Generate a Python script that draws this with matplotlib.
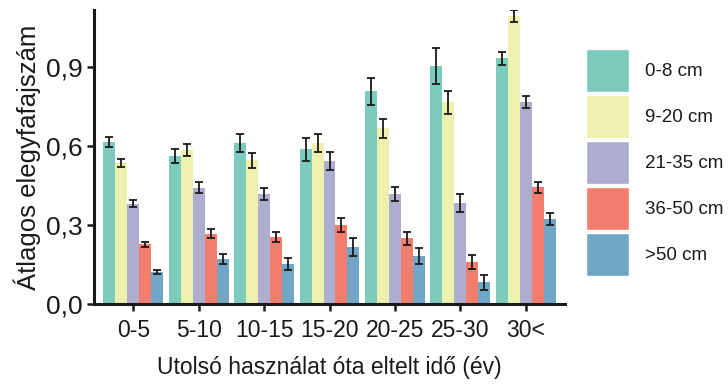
import matplotlib
matplotlib.use("Agg")
import matplotlib.pyplot as plt
import numpy as np
from matplotlib.patches import Patch

categories = ["0-5", "5-10", "10-15", "15-20", "20-25", "25-30", "30<"]
series_names = ["0-8 cm", "9-20 cm", "21-35 cm", "36-50 cm", ">50 cm"]

v_0_8 = [0.616, 0.562, 0.611, 0.587, 0.808, 0.903, 0.933]
v_9_20 = [0.537, 0.585, 0.546, 0.610, 0.667, 0.766, 1.094]
v_21_35 = [0.381, 0.442, 0.417, 0.543, 0.417, 0.385, 0.766]
v_36_50 = [0.227, 0.267, 0.254, 0.300, 0.249, 0.161, 0.443]
v_50 = [0.122, 0.172, 0.152, 0.216, 0.182, 0.082, 0.323]

e_0_8 = [0.018, 0.025, 0.035, 0.044, 0.051, 0.068, 0.025]
e_9_20 = [0.015, 0.022, 0.028, 0.034, 0.036, 0.045, 0.024]
e_21_35 = [0.013, 0.020, 0.023, 0.035, 0.027, 0.034, 0.023]
e_36_50 = [0.010, 0.018, 0.020, 0.028, 0.025, 0.027, 0.021]
e_50 = [0.009, 0.019, 0.024, 0.035, 0.031, 0.028, 0.021]

values = [v_0_8, v_9_20, v_21_35, v_36_50, v_50]
errors = [e_0_8, e_9_20, e_21_35, e_36_50, e_50]
colors = ["#7ccbbd", "#eef1ae", "#aeadcf", "#f47e6e", "#72a6c6"]

yticks = [0.0, 0.3, 0.6, 0.9]
ytick_labels = ["0,0", "0,3", "0,6", "0,9"]

plt.rcParams["font.family"] = ["Liberation Sans", "DejaVu Sans"]

fig = plt.figure(figsize=(7.28, 3.85), dpi=100)
ax = fig.add_axes([94 / 728, 1 - 304 / 385, (565 - 94) / 728, (304 - 10) / 385])

n = len(series_names)
bw = 0.183
x = np.arange(len(categories))
for i in range(n):
    pos = x + (i - (n - 1) / 2) * bw
    ax.bar(pos, values[i], width=bw, color=colors[i], edgecolor="none", zorder=2)
    ax.errorbar(pos, values[i], yerr=errors[i], fmt="none", ecolor="#1a1a1a",
                elinewidth=1.3, capsize=3, capthick=1.3, zorder=3)

ax.set_xlim(-0.6, 6.6)
ax.set_ylim(0, 1.117)
ax.set_xticks(x)
ax.set_xticklabels(categories)
ax.set_yticks(yticks)
ax.set_yticklabels(ytick_labels)
for s in ["top", "right"]:
    ax.spines[s].set_visible(False)
for s in ["left", "bottom"]:
    ax.spines[s].set_linewidth(2.2)
    ax.spines[s].set_color("#1a1a1a")
ax.tick_params(axis="both", length=5, width=1.8, color="#1a1a1a",
               labelcolor="#1a1a1a", pad=4)
ax.tick_params(axis="x", labelsize=16.5, pad=6)
ax.tick_params(axis="y", labelsize=19, pad=3)
ax.set_xlabel("Utolsó használat óta eltelt idő (év)", fontsize=16.5, color="#1a1a1a", labelpad=10)
ax.set_ylabel("Átlagos elegyfafajszám", fontsize=18.5, color="#1a1a1a", labelpad=4)

handles = [Patch(facecolor=c, edgecolor="white", linewidth=1) for c in colors]
fs = 13.5
fs_px = fs * 100 / 72
box_px = 43
hh = (box_px / fs_px - 0.245) / 0.65
leg = fig.legend(handles, series_names, loc="upper left",
                 bbox_to_anchor=(586 / 728, 1 - 49 / 385), frameon=False,
                 prop={"size": fs}, handlelength=box_px / fs_px, handleheight=hh,
                 labelspacing=3 / fs_px, handletextpad=16 / fs_px, borderpad=0,
                 borderaxespad=0)
for t in leg.get_texts():
    t.set_color("#1a1a1a")

fig.savefig("out.png", dpi=100)
